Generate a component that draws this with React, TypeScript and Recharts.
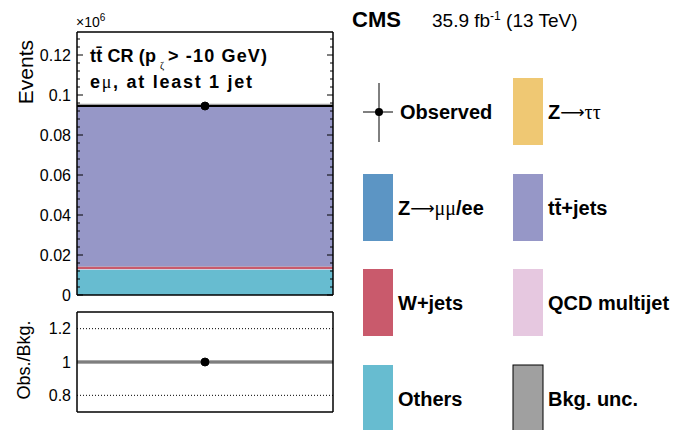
import React from "react";
import {
  ComposedChart, Bar, Line, XAxis, YAxis, ReferenceLine,
} from "recharts";

const FONT = '"Liberation Sans", Arial, Helvetica, sans-serif';
const SYMBOL = '"Liberation Serif", "Times New Roman", serif';
const ARROW = '"DejaVu Sans", sans-serif';

// one bin: ttbar control region, p_zeta > -10 GeV (units of 10^6 events)
const BINS = ["pzeta"];
const OTHERS = [0.0127];
const QCD = [0.0003];
const WJETS = [0.0012];
const ZLL = [0.0002];
const TTBAR = [0.0796];
const ZTT = [0.0002];
const OBSERVED = [0.0945];
const BKG_UNC = [0.0011];
const RATIO = [1.0];

const MAIN_TICKS = [0, 0.02, 0.04, 0.06, 0.08, 0.1, 0.12];
const MINOR_TICKS = Array.from({ length: 33 }, (_, i) => Math.round(i * 4) / 1000);
const RATIO_TICKS = [0.8, 1, 1.2];
const RATIO_LINES = [0.8, 1.2];

// stacking order, bottom to top
const STACK = [
  { key: "others", color: "#67bcd0" },
  { key: "qcd", color: "#e6c8e0" },
  { key: "wjets", color: "#c95a6c" },
  { key: "zll", color: "#5c95c4" },
  { key: "ttbar", color: "#9697c7" },
  { key: "ztt", color: "#efc873" },
];

const totals = BINS.map((_, i) => OTHERS[i] + QCD[i] + WJETS[i] + ZLL[i] + TTBAR[i] + ZTT[i]);

const rows = BINS.map((bin, i) => ({
  bin,
  others: OTHERS[i],
  qcd: QCD[i],
  wjets: WJETS[i],
  zll: ZLL[i],
  ttbar: TTBAR[i],
  ztt: ZTT[i],
  total: totals[i],
  obs: OBSERVED[i],
  ratio: RATIO[i],
}));

const isMajor = (v: number) => MAIN_TICKS.some((t) => Math.abs(t - v) < 1e-9);

function MainLeftTick(props: any) {
  const { x, y, payload } = props;
  const major = isMajor(payload.value);
  return (
    <g>
      <line x1={x} x2={x + (major ? 6 : 3)} y1={y} y2={y} stroke="#000" />
      {major && (
        <text x={x - 6} y={y} textAnchor="end" dominantBaseline="central"
          fontSize={16} fontFamily={FONT} fill="#000">{String(payload.value)}</text>
      )}
    </g>
  );
}

function MainRightTick(props: any) {
  const { x, y, payload } = props;
  const major = isMajor(payload.value);
  return <line x1={x} x2={x - (major ? 6 : 3)} y1={y} y2={y} stroke="#000" />;
}

function RatioTick(props: any) {
  const { x, y, payload } = props;
  return (
    <text x={x - 6} y={y} textAnchor="end" dominantBaseline="central"
      fontSize={16} fontFamily={FONT} fill="#000">{String(payload.value)}</text>
  );
}

function LegendBox({ x, y, color, border }: { x: number; y: number; color: string; border?: boolean }) {
  return <rect x={x} y={y} width={30} height={67} fill={color} stroke={border ? "#000" : "none"} strokeWidth={1} />;
}

export default function App() {
  const frame = { stroke: "#000", strokeWidth: 1.5 };
  const colLeft = 363;
  const colRight = 513;
  const rowTop = [78, 174, 269, 365];
  const lg = { fontSize: 20, fontFamily: FONT, fontWeight: 700, fill: "#000" } as const;

  return (
    <div style={{ position: "absolute", left: 0, top: 0, width: 673, height: 430, background: "#fff", fontFamily: FONT }}>
      <div style={{ position: "absolute", left: 0, top: 0 }}>
        <ComposedChart width={340} height={310} data={rows}
          margin={{ top: 31, right: 6, bottom: 14, left: 32 }} barCategoryGap={0} barGap={0}>
          <XAxis dataKey="bin" xAxisId="bottom" height={1} tick={false} tickLine={false} axisLine={frame} />
          <XAxis dataKey="bin" xAxisId="top" orientation="top" height={1} tick={false} tickLine={false} axisLine={frame} />
          <YAxis yAxisId="left" type="number" domain={[0, 0.1315]} allowDataOverflow width={45}
            ticks={MINOR_TICKS} interval={0} tickSize={0} tickMargin={0} tickLine={false}
            tick={<MainLeftTick />} axisLine={frame} />
          <YAxis yAxisId="right" orientation="right" type="number" domain={[0, 0.1315]} allowDataOverflow width={1}
            ticks={MINOR_TICKS} interval={0} tickSize={0} tickMargin={0} tickLine={false}
            tick={<MainRightTick />} axisLine={frame} />
          {STACK.map((s) => (
            <Bar key={s.key} dataKey={s.key} xAxisId="bottom" yAxisId="left" stackId="bkg"
              fill={s.color} isAnimationActive={false} />
          ))}
          {/* upper edge of the background uncertainty band */}
          <ReferenceLine xAxisId="bottom" yAxisId="left" y={totals[0] + BKG_UNC[0]} stroke="#a0a0a0" strokeWidth={1.5} />
          <ReferenceLine xAxisId="bottom" yAxisId="left" y={OBSERVED[0]} stroke="#000" strokeWidth={2} />
          {/* total on the secondary axes keeps the top and right frame lines drawn */}
          <Line dataKey="total" xAxisId="top" yAxisId="right" stroke="none" dot={false} isAnimationActive={false} />
          <Line dataKey="obs" xAxisId="bottom" yAxisId="left" stroke="none" isAnimationActive={false}
            dot={{ r: 4, fill: "#000", stroke: "#000", strokeWidth: 1 }} />
        </ComposedChart>
      </div>

      <div style={{ position: "absolute", left: 0, top: 300 }}>
        <ComposedChart width={340} height={130} data={rows}
          margin={{ top: 11, right: 6, bottom: 17, left: 32 }} barCategoryGap={0} barGap={0}>
          <XAxis dataKey="bin" xAxisId="bottom" height={1} tick={false} tickLine={false} axisLine={frame} />
          <XAxis dataKey="bin" xAxisId="top" orientation="top" height={1} tick={false} tickLine={false} axisLine={frame} />
          <YAxis yAxisId="left" type="number" domain={[0.7, 1.3]} allowDataOverflow width={45}
            ticks={RATIO_TICKS} interval={0} tickSize={0} tickMargin={0} tickLine={false}
            tick={<RatioTick />} axisLine={frame} />
          <YAxis yAxisId="right" orientation="right" type="number" domain={[0.7, 1.3]} allowDataOverflow width={1}
            tick={false} tickLine={false} axisLine={frame} />
          {RATIO_LINES.map((v) => (
            <ReferenceLine key={v} xAxisId="bottom" yAxisId="left" y={v} stroke="#000" strokeWidth={1} strokeDasharray="1 2" />
          ))}
          {/* relative background uncertainty band around 1 */}
          <ReferenceLine xAxisId="bottom" yAxisId="left" y={RATIO[0]} stroke="#a8a8a8" strokeWidth={4} />
          <ReferenceLine xAxisId="bottom" yAxisId="left" y={RATIO[0]} stroke="#707070" strokeWidth={1.5} />
          <Line dataKey="ratio" xAxisId="top" yAxisId="right" stroke="none" dot={false} isAnimationActive={false} />
          <Line dataKey="ratio" xAxisId="bottom" yAxisId="left" stroke="none" isAnimationActive={false}
            dot={{ r: 4, fill: "#000", stroke: "#000", strokeWidth: 1 }} />
        </ComposedChart>
      </div>

      <svg width={673} height={430} style={{ position: "absolute", left: 0, top: 0, pointerEvents: "none" }}>
        {/* axis titles */}
        <text transform="translate(25,40) rotate(-90)" textAnchor="end" dominantBaseline="central"
          fontSize={21} fontFamily={FONT}>Events</text>
        <text transform="translate(24,360) rotate(-90)" textAnchor="middle" dominantBaseline="central"
          fontSize={18} fontFamily={FONT}>Obs./Bkg.</text>
        <text x={76} y={27} fontSize={14} fontFamily={FONT}>×10<tspan dy={-6} fontSize={10}>6</tspan></text>

        {/* region label */}
        <text x={90} y={62} fontSize={18} fontWeight={700} fontFamily={FONT} textLength={66} lengthAdjust="spacing">
          {"tt\u0304 CR (p"}
        </text>
        <text x={160} y={69} fontSize={10} fontFamily={SYMBOL}>ζ</text>
        <text x={168} y={62} fontSize={18} fontWeight={700} fontFamily={FONT} textLength={99} lengthAdjust="spacing">
          {"> -10 GeV)"}
        </text>
        <text x={90} y={88} fontSize={18} fontWeight={700} fontFamily={FONT} textLength={162} lengthAdjust="spacing">
          e<tspan fontFamily={SYMBOL} fontWeight={400}>μ</tspan>, at least 1 jet
        </text>

        {/* CMS header */}
        <text x={352} y={27} fontSize={22} fontWeight={700} fontFamily={FONT}>CMS</text>
        <text x={432} y={27} fontSize={19} fontFamily={FONT}>
          35.9 fb<tspan dy={-7} fontSize={12}>-1</tspan><tspan dy={7}> (13 TeV)</tspan>
        </text>

        {/* legend */}
        <line x1={colLeft + 16} x2={colLeft + 16} y1={83} y2={142} stroke="#000" strokeWidth={1} />
        <line x1={colLeft} x2={colLeft + 30} y1={112} y2={112} stroke="#000" strokeWidth={1} />
        <circle cx={colLeft + 16} cy={112} r={4} fill="#000" />
        <text x={400} y={112} dominantBaseline="central" {...lg}>Observed</text>

        <LegendBox x={colLeft} y={rowTop[1]} color="#5c95c4" />
        <text x={398} y={rowTop[1] + 34} dominantBaseline="central" {...lg}>
          Z<tspan fontFamily={ARROW} fontWeight={400} fontSize={17}>⟶</tspan>
          <tspan fontFamily={SYMBOL} fontWeight={400}>μμ</tspan>/ee
        </text>
        <LegendBox x={colLeft} y={rowTop[2]} color="#c95a6c" />
        <text x={398} y={rowTop[2] + 34} dominantBaseline="central" {...lg}>W+jets</text>
        <LegendBox x={colLeft} y={rowTop[3]} color="#67bcd0" />
        <text x={398} y={rowTop[3] + 34} dominantBaseline="central" {...lg}>Others</text>

        <LegendBox x={colRight} y={rowTop[0]} color="#efc873" />
        <text x={548} y={rowTop[0] + 34} dominantBaseline="central" {...lg}>
          Z<tspan fontFamily={ARROW} fontWeight={400} fontSize={17}>⟶</tspan>
          <tspan fontFamily={SYMBOL} fontWeight={400}>ττ</tspan>
        </text>
        <LegendBox x={colRight} y={rowTop[1]} color="#9697c7" />
        <text x={548} y={rowTop[1] + 34} dominantBaseline="central" {...lg}>{"tt\u0304+jets"}</text>
        <LegendBox x={colRight} y={rowTop[2]} color="#e6c8e0" />
        <text x={548} y={rowTop[2] + 34} dominantBaseline="central" {...lg}>QCD multijet</text>
        <LegendBox x={colRight} y={rowTop[3]} color="#a0a0a0" border />
        <text x={548} y={rowTop[3] + 34} dominantBaseline="central" {...lg}>Bkg. unc.</text>
      </svg>
    </div>
  );
}
